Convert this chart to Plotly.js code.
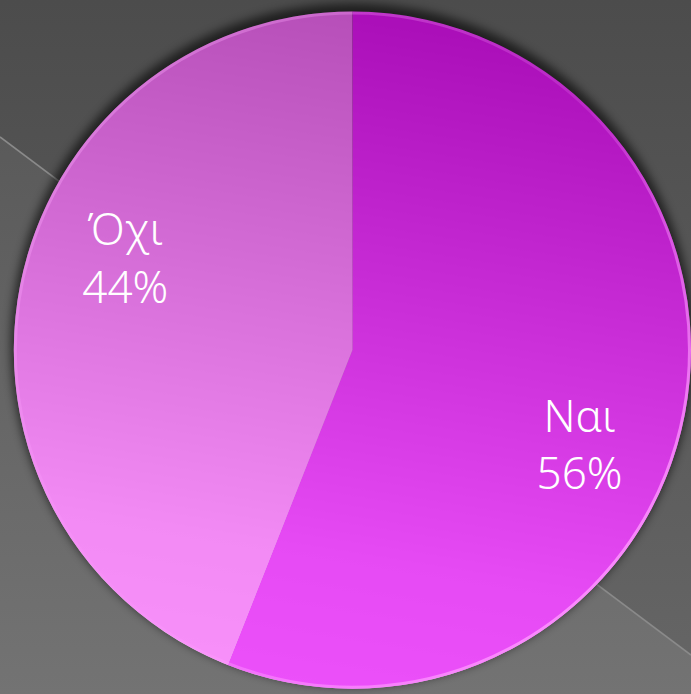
<!DOCTYPE html>
<html>
<head>
<meta charset="utf-8">
<script src="https://cdn.plot.ly/plotly-3.0.1.min.js"></script>
<style>
  html, body { margin:0; padding:0; background:#555; }
  #wrap { position:relative; width:691px; height:694px; overflow:hidden; }
  #bg, #fg, #chart { position:absolute; left:0; top:0; width:691px; height:694px; }
  #fg { pointer-events:none; }
</style>
</head>
<body>
<div id="wrap">
  <svg id="bg" width="691" height="694"></svg>
  <div id="chart"></div>
  <svg id="fg" width="691" height="694"></svg>
</div>
<script>
// ---- data ----
const labels = ['Ναι', 'Όχι'];
const values = [56, 44];
const sliceColors = ['rgba(236,19,255,0.72)', 'rgba(252,108,255,0.72)'];
const labelColors = ['rgba(0,0,0,0)', 'rgba(0,0,0,0)'];

const W = 691, H = 694;
const dom = { x: [0.02, 1], y: [0.003, 0.988] };
const labelFont = { family: '"Noto Sans", "Open Sans", sans-serif', size: 44, color: '#ffffff', weight: 300 };

const data = [
  {
    type: 'pie', labels: labels, values: values, sort: false, direction: 'clockwise', rotation: 0,
    marker: { colors: sliceColors, line: { width: 0 } },
    textinfo: 'none', hoverinfo: 'skip', domain: dom
  },
  {
    type: 'pie', labels: labels, values: values, sort: false, direction: 'clockwise', rotation: 11.5,
    hole: 0.45,
    marker: { colors: labelColors, line: { width: 0 } },
    textinfo: 'label+percent', textposition: 'inside', insidetextorientation: 'auto',
    textfont: labelFont, insidetextfont: labelFont,
    hoverinfo: 'skip', domain: dom
  }
];

const layout = {
  width: W, height: H,
  margin: { l: 0, r: 0, t: 0, b: 0, pad: 0 },
  showlegend: false,
  paper_bgcolor: 'rgba(0,0,0,0)',
  plot_bgcolor: 'rgba(0,0,0,0)'
};

const gd = document.getElementById('chart');
Plotly.newPlot(gd, data, layout, { staticPlot: true, displayModeBar: false }).then(function () {
  let cx = W * (dom.x[0] + dom.x[1]) / 2;
  let cy = H * (1 - (dom.y[0] + dom.y[1]) / 2);
  let r = Math.min(W * (dom.x[1] - dom.x[0]), H * (dom.y[1] - dom.y[0])) / 2;
  try {
    const cd0 = gd.calcdata[0][0];
    if (isFinite(cd0.cx) && isFinite(cd0.cy) && isFinite(cd0.r)) { cx = cd0.cx; cy = cd0.cy; r = cd0.r; }
  } catch (e) {}

  const y0 = 137, y1 = 655; // decorative background diagonal
  document.getElementById('bg').innerHTML =
    '<defs>' +
      '<linearGradient id="bgU" x1="0" y1="0" x2="0" y2="1">' +
        '<stop offset="0" stop-color="#4c4c4c"/><stop offset="1" stop-color="#666666"/></linearGradient>' +
      '<linearGradient id="bgL" gradientUnits="userSpaceOnUse" x1="0" y1="0" x2="0" y2="' + H + '">' +
        '<stop offset="0" stop-color="#545454"/><stop offset="1" stop-color="#737373"/></linearGradient>' +
      '<linearGradient id="shade" x1="0.58" y1="0" x2="0.42" y2="1">' +
        '<stop offset="0" stop-color="#000000"/><stop offset="0.8" stop-color="#d8d8d8"/><stop offset="1" stop-color="#ececec"/></linearGradient>' +
      '<filter id="blur" x="-20%" y="-20%" width="140%" height="140%"><feGaussianBlur stdDeviation="5"/></filter>' +
    '</defs>' +
    '<rect x="0" y="0" width="' + W + '" height="' + H + '" fill="url(#bgU)"/>' +
    '<polygon points="0,' + y0 + ' ' + W + ',' + y1 + ' ' + W + ',' + H + ' 0,' + H + '" fill="url(#bgL)"/>' +
    '<line x1="0" y1="' + y0 + '" x2="' + W + '" y2="' + y1 + '" stroke="#8a8a8a" stroke-width="1.6"/>' +
    '<circle cx="' + cx + '" cy="' + (cy - 5) + '" r="' + (r + 3) + '" fill="#000" opacity="0.6" filter="url(#blur)"/>' +
    '<circle cx="' + cx + '" cy="' + cy + '" r="' + r + '" fill="url(#shade)"/>';

  document.getElementById('fg').innerHTML =
    '<defs>' +
      '<linearGradient id="rim" x1="0.1" y1="0.1" x2="0.9" y2="0.9">' +
        '<stop offset="0" stop-color="#ffb0ff" stop-opacity="0.35"/>' +
        '<stop offset="0.5" stop-color="#ff9cff" stop-opacity="0.15"/>' +
        '<stop offset="1" stop-color="#ff99ff" stop-opacity="0.9"/></linearGradient>' +
    '</defs>' +
    '<circle cx="' + cx + '" cy="' + cy + '" r="' + (r - 1.5) + '" fill="none" stroke="url(#rim)" stroke-width="3"/>';
});
</script>
</body>
</html>
